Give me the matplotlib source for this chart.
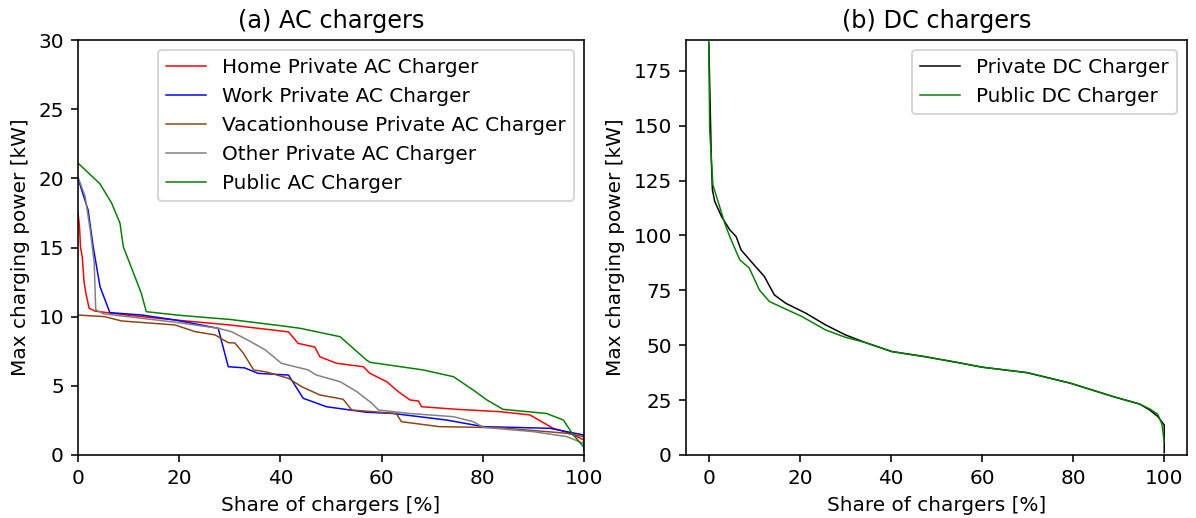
import matplotlib
matplotlib.use("Agg")
import matplotlib.pyplot as plt

# ---- AC chargers (share of chargers [%], max power [kW]) ----
home_x = [0, 0.3, 0.5, 0.85, 1.2, 1.5, 2.2, 3.4, 10, 19.2, 30, 41.6, 43.5, 46.8, 47.8, 51.1,
          56.4, 57.7, 61, 63.3, 65.6, 67.3, 67.9, 75, 83.4, 89.3, 93.9, 97.2, 99.9, 100]
home_y = [17.5, 16.5, 15, 14.3, 12.5, 11.8, 10.6, 10.4, 10.1, 9.76, 9.4, 8.9, 8.07, 7.8, 7.1, 6.63,
          6.38, 5.9, 5.3, 4.58, 3.98, 3.9, 3.49, 3.3, 3.13, 2.9, 1.93, 1.57, 1.1, 0.5]

work_x = [0, 2.0, 3.0, 4.35, 6.3, 12.6, 19.2, 27.7, 29.7, 32.9, 35.6, 41.6, 44.5, 49.1,
          57, 62.3, 72.8, 80.1, 93.3, 99.9, 100]
work_y = [20.0, 17.7, 15.06, 12.17, 10.29, 10.12, 9.76, 9.16, 6.38, 6.3, 5.9, 5.78, 4.1, 3.49,
          3.09, 3.0, 2.53, 2.05, 1.93, 1.45, 1.0]

vac_x = [0, 5.3, 8.6, 19.2, 23.1, 27.1, 29.7, 31, 32.7, 34.7, 37.3, 41.6, 44.2, 47.8, 52.4,
         54.1, 62.9, 63.9, 71.4, 83.4, 96.6, 99.9, 100]
vac_y = [10.12, 10.0, 9.69, 9.4, 8.92, 8.68, 8.12, 8.1, 7.35, 6.15, 6.0, 5.54, 4.94, 4.34, 4.03,
         3.25, 3.0, 2.41, 2.05, 1.97, 1.57, 1.33, 0.7]

other_x = [0, 1.4, 2.4, 3.2, 3.5, 5.1, 19.2, 27.7, 30.3, 33.6, 37, 40.2, 41.6, 45.5, 47.1,
           51.8, 55.1, 58.1, 59.4, 65.6, 74.2, 78.1, 80.1, 89.9, 96.6, 99.9, 100]
other_y = [20.1, 18.7, 16.3, 13.9, 10.5, 10.2, 9.6, 9.16, 8.92, 8.3, 7.6, 6.63, 6.5, 6.15, 5.78,
           5.3, 4.58, 3.73, 3.25, 3.0, 2.77, 2.41, 2.0, 1.69, 1.33, 0.84, 0.5]

pubac_x = [0, 4.35, 6.66, 8.3, 8.95, 11.5, 12.5, 13.5, 20, 30, 40, 43.9, 51.8, 54.4, 57, 57.7,
           68.2, 74.2, 78.1, 80.8, 84, 92.6, 95.9, 97.9, 99.9, 100]
pubac_y = [21.1, 19.6, 18.2, 16.75, 15.06, 12.65, 11.7, 10.36, 10.1, 9.8, 9.35, 9.16, 8.55, 7.71,
           6.87, 6.7, 6.15, 5.66, 4.7, 3.98, 3.3, 3.0, 2.53, 1.45, 0.6, 0.3]

# ---- DC chargers ----
privdc_x = [0, 0.3, 0.58, 0.8, 1.3, 2.8, 4.6, 6.0, 7.1, 9.3, 12.2, 14.4, 16.9, 21.3, 25.6, 30,
            34.4, 40.2, 47.4, 54.7, 60, 69.9, 79.4, 88.8, 94.6, 96.8, 98.6, 99.7, 100, 100]
privdc_y = [188, 160, 133, 120.8, 115.5, 108.6, 102.6, 99.5, 93.4, 88.1, 81.3, 72.9, 69.1, 64.6,
            59.3, 54.7, 51.2, 47.1, 44.8, 42.1, 40.0, 37.5, 32.7, 26.6, 23.2, 20.5, 17.5, 14.5, 13.7, 1]

pubdc_x = [0, 0.2, 0.9, 1.7, 3.5, 4.6, 6.8, 8.9, 11.1, 13.3, 20.5, 25.6, 30, 34.4, 40.2, 47.4,
           54.7, 60, 69.9, 79.4, 88.8, 94.6, 96.8, 98.6, 99.5, 100]
pubdc_y = [188, 148, 123, 117.7, 105.6, 99.5, 88.9, 85.1, 75.2, 69.9, 63.0, 57.0, 53.6, 51.2,
           47.1, 44.8, 42.1, 40.0, 37.5, 32.7, 26.6, 23.2, 21, 18.5, 14, 6]

ac_series = [
    ("Home Private AC Charger", home_x, home_y, "red"),
    ("Work Private AC Charger", work_x, work_y, "blue"),
    ("Vacationhouse Private AC Charger", vac_x, vac_y, "#8B4513"),
    ("Other Private AC Charger", other_x, other_y, "grey"),
    ("Public AC Charger", pubac_x, pubac_y, "green"),
]
dc_series = [
    ("Private DC Charger", privdc_x, privdc_y, "black"),
    ("Public DC Charger", pubdc_x, pubdc_y, "green"),
]

fig = plt.figure(figsize=(1196 / 144, 518 / 144), dpi=144)
ax1 = fig.add_axes([78 / 1196, 1 - 455 / 518, (584 - 78) / 1196, (455 - 40) / 518])
ax2 = fig.add_axes([686 / 1196, 1 - 455 / 518, (1187 - 686) / 1196, (455 - 40) / 518])

for label, x, y, c in ac_series:
    ax1.plot(x, y, color=c, lw=0.75, label=label)
ax1.set_xlim(0, 100)
ax1.set_ylim(0, 30)
ax1.set_title("(a) AC chargers")
ax1.set_xlabel("Share of chargers [%]")
ax1.set_ylabel("Max charging power [kW]")
ax1.legend(loc="upper right")

for label, x, y, c in dc_series:
    ax2.plot(x, y, color=c, lw=0.75, label=label)
ax2.set_xlim(-5, 105)
ax2.set_ylim(0, 189)
ax2.set_yticks([0, 25, 50, 75, 100, 125, 150, 175])
ax2.set_title("(b) DC chargers")
ax2.set_xlabel("Share of chargers [%]")
ax2.set_ylabel("Max charging power [kW]")
ax2.legend(loc="upper right")

fig.savefig("out.png", dpi=144)
